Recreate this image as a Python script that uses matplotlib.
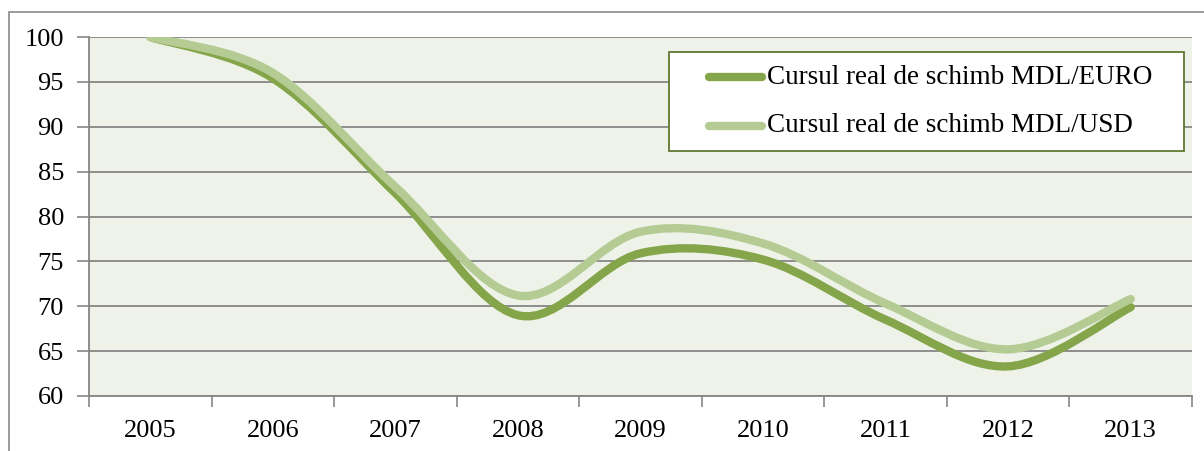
import matplotlib
matplotlib.use("Agg")
import matplotlib.pyplot as plt
import numpy as np
from matplotlib.path import Path
from matplotlib.patches import PathPatch, Rectangle
from matplotlib.lines import Line2D

years = ["2005", "2006", "2007", "2008", "2009", "2010", "2011", "2012", "2013"]
euro = [100, 95.4, 82.6, 69.0, 75.9, 75.2, 68.5, 63.3, 69.9]
usd = [100, 96.0, 83.3, 71.2, 78.3, 77.0, 70.3, 65.2, 70.8]
label_euro = "Cursul real de schimb MDL/EURO"
label_usd = "Cursul real de schimb MDL/USD"

c_euro = "#84a54a"
c_usd = "#b4cc94"
c_grid = "#868686"

W, H = 1204, 451
plt.rcParams['font.family'] = ['Liberation Serif', 'DejaVu Serif']
FS = 19


def fx(px):
    return px / W


def fy(py):
    return 1 - py / H


def smooth_path(xs, ys):
    # bezier curve through the points, like a smoothed office line
    pts = np.column_stack([xs, ys]).astype(float)
    ext = np.vstack([pts[0], pts, pts[-1]])
    verts = [pts[0]]
    codes = [Path.MOVETO]
    for i in range(len(pts) - 1):
        p0, p1, p2, p3 = ext[i], ext[i + 1], ext[i + 2], ext[i + 3]
        verts += [p1 + (p2 - p0) / 6, p2 - (p3 - p1) / 6, p2]
        codes += [Path.CURVE4] * 3
    return Path(verts, codes)


fig = plt.figure(figsize=(W / 100, H / 100), dpi=100)
ax = fig.add_axes([fx(89), fy(396), fx(1192) - fx(89), fy(37) - fy(396)])
ax.set_facecolor("#eef2e8")

x = np.arange(len(years))
for vals, col in [(euro, c_euro), (usd, c_usd)]:
    ax.add_patch(PathPatch(smooth_path(x, vals), fill=False, edgecolor=col,
                           lw=6, capstyle='round', joinstyle='round', zorder=3))

ax.set_xlim(-0.5, len(years) - 0.5)
ax.set_ylim(60, 100)
ax.set_yticks(range(60, 101, 5))
ax.set_xticks(x)
ax.set_xticklabels(years)
ax.set_xticks(np.arange(-0.5, len(years)), minor=True)
ax.tick_params(axis='x', which='major', length=0, pad=17.5, labelsize=FS)
ax.tick_params(axis='x', which='minor', length=8, color=c_grid, width=1.2)
ax.tick_params(axis='y', length=9, color=c_grid, width=1.2, pad=9, labelsize=FS)
ax.grid(axis='y', color=c_grid, lw=1.3)
ax.set_axisbelow(True)
for s in ['top', 'right']:
    ax.spines[s].set_visible(False)
for s in ['left', 'bottom']:
    ax.spines[s].set_color(c_grid)
    ax.spines[s].set_linewidth(1.3)

# outer chart border
fig.add_artist(Rectangle((fx(9), fy(460)), fx(1220) - fx(9), fy(12) - fy(460),
                         transform=fig.transFigure, fill=False,
                         edgecolor="#8a8a8a", lw=1.2))

# legend box
fig.add_artist(Rectangle((fx(669), fy(151)), fx(1184) - fx(669), fy(52) - fy(151),
                         transform=fig.transFigure, facecolor="white",
                         edgecolor="#5f7832", lw=1.3, zorder=5))
for yy, col, lab in [(77, c_euro, label_euro), (126, c_usd, label_usd)]:
    fig.add_artist(Line2D([fx(709), fx(762)], [fy(yy), fy(yy)],
                          transform=fig.transFigure, color=col, lw=6,
                          solid_capstyle='round', zorder=6))
    fig.text(fx(767), fy(yy), lab, fontsize=19.5, va='center', ha='left', zorder=6)

fig.savefig("out.png", dpi=100)
